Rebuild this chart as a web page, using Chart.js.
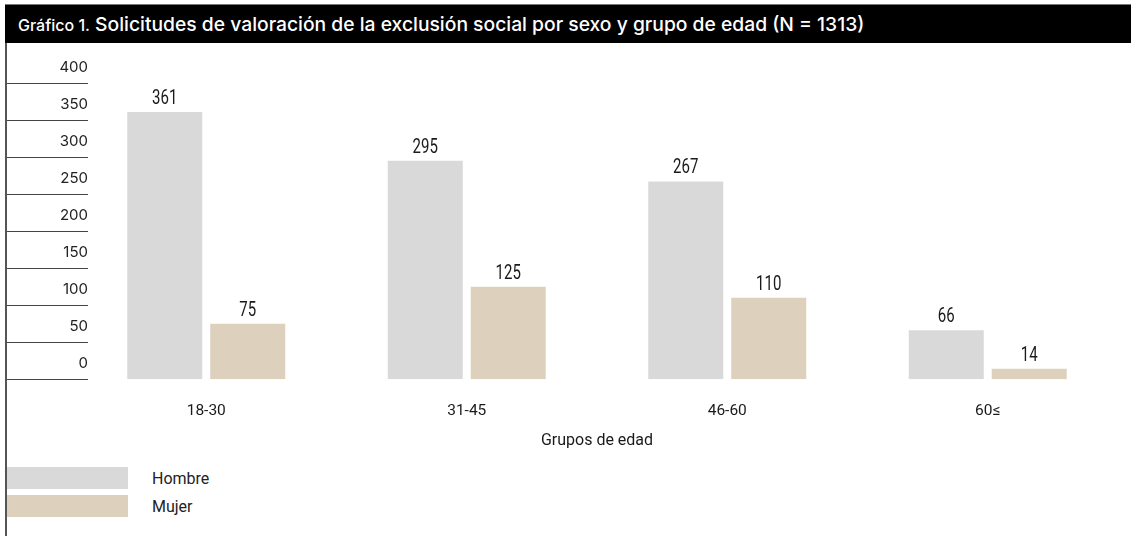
<!DOCTYPE html>
<html lang="es">
<head>
    <meta charset="UTF-8">
    <title>Solicitudes de valoración de la exclusión social</title>
    <script src="https://cdn.jsdelivr.net/npm/chart.js"></script>
    <style>
        body {
            margin: 0;
            background: #fff;
            font-family: Roboto, sans-serif;
            color: #222;
        }

        .frame {
            position: relative;
            width: 1131px;
            height: 536px;
            overflow: hidden;
        }

        .title-bar {
            position: absolute;
            left: 5px;
            top: 4px;
            right: 0;
            height: 38px;
            background: #000;
            border-top: 1px solid #777;
            color: #fff;
            font-family: Inter, Roboto, sans-serif;
            font-size: 19.3px;
            font-weight: 500;
            line-height: 38px;
            padding-left: 13px;
            white-space: nowrap;
        }

        .title-bar small {
            font-size: 16px;
        }

        .left-rule {
            position: absolute;
            left: 5px;
            top: 43px;
            bottom: 0;
            width: 2px;
            background: #555;
        }

        .chart-box {
            position: absolute;
            left: 0;
            top: 43px;
            width: 1131px;
            height: 412px;
        }

        #legend {
            position: absolute;
            left: 7px;
            top: 467px;
        }

        .legend-item {
            display: flex;
            align-items: center;
            height: 22px;
            margin-bottom: 6px;
            font-size: 16px;
        }

        .legend-swatch {
            width: 121px;
            height: 22px;
            margin-right: 24px;
        }
    </style>
</head>
<body>
    <div class="frame">
        <div class="title-bar"><small>Gráfico 1.</small> Solicitudes de valoración de la exclusión social por sexo y grupo de edad (N = 1313)</div>
        <div class="left-rule"></div>
        <div class="chart-box">
            <canvas id="chart"></canvas>
        </div>
        <div id="legend"></div>
    </div>

    <script>
        const groups = ['18-30', '31-45', '46-60', '60≤'];
        const hombre = [361, 295, 267, 66];
        const mujer = [75, 125, 110, 14];
        const seriesNames = ['Hombre', 'Mujer'];
        const yTicks = [0, 50, 100, 150, 200, 250, 300, 350, 400];

        // values printed above each bar, squeezed to a condensed look
        const barValues = {
            id: 'barValues',
            afterDatasetsDraw(chart) {
                const ctx = chart.ctx;
                ctx.save();
                ctx.fillStyle = '#1a1a1a';
                ctx.font = '20px Roboto, sans-serif';
                ctx.textAlign = 'center';
                ctx.textBaseline = 'bottom';
                chart.data.datasets.forEach((ds, i) => {
                    chart.getDatasetMeta(i).data.forEach((bar, j) => {
                        ctx.save();
                        ctx.translate(bar.x, bar.y - 3);
                        ctx.scale(0.75, 1);
                        ctx.fillText(ds.data[j], 0, 0);
                        ctx.restore();
                    });
                });
                ctx.restore();
            }
        };

        // y labels sit on short rules that reach a little into the plot
        const yRules = {
            id: 'yRules',
            afterDraw(chart) {
                const y = chart.scales.y;
                const ctx = chart.ctx;
                ctx.save();
                ctx.strokeStyle = '#444';
                ctx.lineWidth = 1;
                ctx.fillStyle = '#222';
                ctx.font = '15px Inter, Roboto, sans-serif';
                ctx.textAlign = 'right';
                ctx.textBaseline = 'middle';
                y.ticks.forEach(t => {
                    const py = Math.round(y.getPixelForValue(t.value)) + 0.5;
                    ctx.beginPath();
                    ctx.moveTo(7, py);
                    ctx.lineTo(88, py);
                    ctx.stroke();
                    ctx.fillText(String(t.value), 88, py - 16);
                });
                ctx.restore();
            }
        };

        const chart = new Chart(document.getElementById('chart'), {
            type: 'bar',
            data: {
                labels: groups,
                datasets: [
                    { label: seriesNames[0], data: hombre, backgroundColor: '#d9d9d9' },
                    { label: seriesNames[1], data: mujer, backgroundColor: '#ddd1bd' }
                ]
            },
            options: {
                responsive: true,
                maintainAspectRatio: false,
                animation: false,
                categoryPercentage: 0.637,
                barPercentage: 0.904,
                layout: { padding: { left: 0, right: 13, top: 40, bottom: 4 } },
                plugins: {
                    legend: { display: false },
                    tooltip: { enabled: false }
                },
                scales: {
                    x: {
                        grid: { display: false },
                        border: { display: false },
                        ticks: {
                            color: '#1a1a1a',
                            padding: 15,
                            font: { family: 'Roboto, sans-serif', size: 15.5 }
                        },
                        title: {
                            display: true,
                            text: 'Grupos de edad',
                            color: '#1a1a1a',
                            padding: { top: -4, bottom: 0 },
                            font: { family: 'Roboto, sans-serif', size: 16 }
                        }
                    },
                    y: {
                        min: 0,
                        max: 400,
                        afterBuildTicks(scale) {
                            scale.ticks = yTicks.map(v => ({ value: v }));
                        },
                        afterFit(scale) {
                            scale.width = 76;
                        },
                        grid: { display: false, drawTicks: false },
                        border: { display: false },
                        ticks: { display: false }
                    }
                }
            },
            plugins: [barValues, yRules]
        });

        // legend as a plain list under the chart
        const legend = document.getElementById('legend');
        chart.data.datasets.forEach(ds => {
            const item = document.createElement('div');
            item.className = 'legend-item';
            const sw = document.createElement('span');
            sw.className = 'legend-swatch';
            sw.style.background = ds.backgroundColor;
            item.appendChild(sw);
            item.appendChild(document.createTextNode(ds.label));
            legend.appendChild(item);
        });
    </script>
</body>
</html>
